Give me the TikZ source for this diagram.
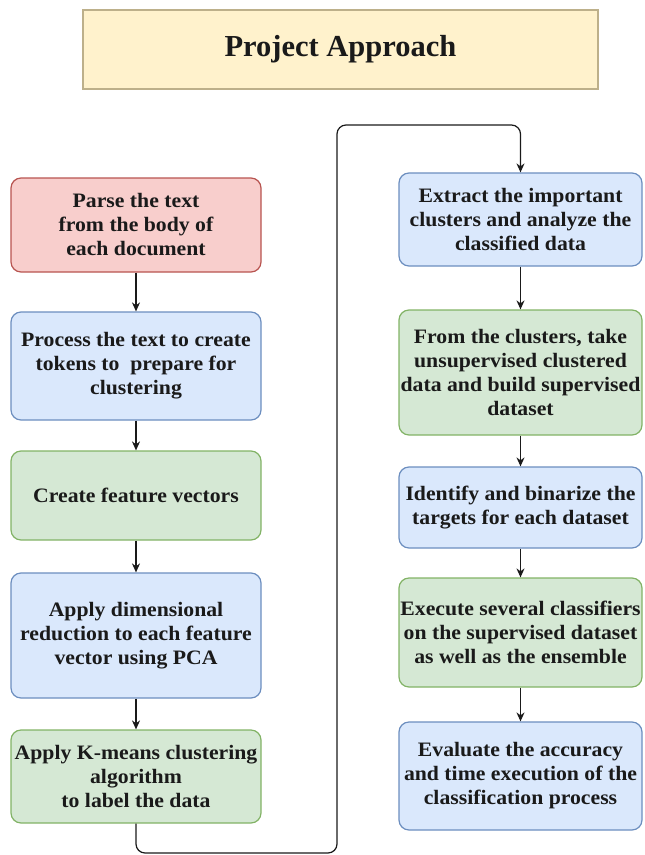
\documentclass[tikz,border=0pt]{standalone}
\usepackage{fontspec}
\setmainfont{Liberation Serif}
\newfontfamily\boxfont{Liberation Serif}[FakeStretch=1.06]
\usetikzlibrary{arrows.meta}
\definecolor{redfill}{HTML}{F8CECC}\definecolor{redline}{HTML}{B85450}
\definecolor{bluefill}{HTML}{DAE8FC}\definecolor{blueline}{HTML}{6C8EBF}
\definecolor{greenfill}{HTML}{D5E8D4}\definecolor{greenline}{HTML}{82B366}
\definecolor{yellowfill}{HTML}{FFF2CC}\definecolor{yellowline}{HTML}{BDB08A}
\definecolor{ink}{HTML}{1A1A1A}
\tikzset{
  stepbox/.style={rounded corners=10pt, line width=1.2pt, align=center,
    inner sep=0pt, text=ink,
    font=\boxfont\bfseries\fontsize{20.5}{24}\selectfont},
  leftbox/.style={stepbox, minimum width=250pt},
  rightbox/.style={stepbox, minimum width=243pt},
  redbox/.style={draw=redline, fill=redfill},
  bluebox/.style={draw=blueline, fill=bluefill},
  greenbox/.style={draw=greenline, fill=greenfill},
  flow/.style={draw=ink, line width=1.2pt, -{Stealth[length=9pt,width=8pt]}},
}
\begin{document}
\begin{tikzpicture}[x=1pt,y=-1pt]
\useasboundingbox (0,0) rectangle (645,855);

% title banner
\node[draw=yellowline, fill=yellowfill, line width=1.2pt, minimum width=515pt,
  minimum height=79pt, text=ink, font=\bfseries\fontsize{30.5}{34}\selectfont]
  (title) at (340.5,49.5) {Project Approach};

% left column
\node[leftbox, redbox, minimum height=94pt] (parse) at (136,225)
  {Parse the text\\from the body of\\each document};
\node[leftbox, bluebox, minimum height=108pt] (tokens) at (136,366)
  {Process the text to create\\tokens to\ \ prepare for\\clustering};
\node[leftbox, greenbox, minimum height=89pt] (features) at (136,495.5)
  {Create feature vectors};
\node[leftbox, bluebox, minimum height=125pt] (pca) at (136,635.5)
  {Apply dimensional\\reduction to each feature\\vector using PCA};
\node[leftbox, greenbox, minimum height=93pt] (kmeans) at (136,776.5)
  {Apply K-means clustering\\algorithm\\to label the data};

% right column
\node[rightbox, bluebox, minimum height=93pt] (extract) at (520.5,219.5)
  {Extract the important\\clusters and analyze the\\classified data};
\node[rightbox, greenbox, minimum height=125pt] (supervised) at (520.5,372.5)
  {From the clusters, take\\unsupervised clustered\\data and build supervised\\dataset};
\node[rightbox, bluebox, minimum height=81pt] (targets) at (520.5,507.5)
  {Identify and binarize the\\targets for each dataset};
\node[rightbox, greenbox, minimum height=109pt] (classifiers) at (520.5,632.5)
  {Execute several classifiers\\on the supervised dataset\\as well as the ensemble};
\node[rightbox, bluebox, minimum height=108pt] (evaluate) at (520.5,776)
  {Evaluate the accuracy\\and time execution of the\\classification process};

% connectors
\draw[flow] (parse) -- (tokens);
\draw[flow] (tokens) -- (features);
\draw[flow] (features) -- (pca);
\draw[flow] (pca) -- (kmeans);
\draw[flow, rounded corners=9pt] (kmeans.south) -- (136,853) -- (337,853)
  -- (337,125) -- (520.5,125) -- (extract.north);
\draw[flow] (extract) -- (supervised);
\draw[flow] (supervised) -- (targets);
\draw[flow] (targets) -- (classifiers);
\draw[flow] (classifiers) -- (evaluate);
\end{tikzpicture}
\end{document}
